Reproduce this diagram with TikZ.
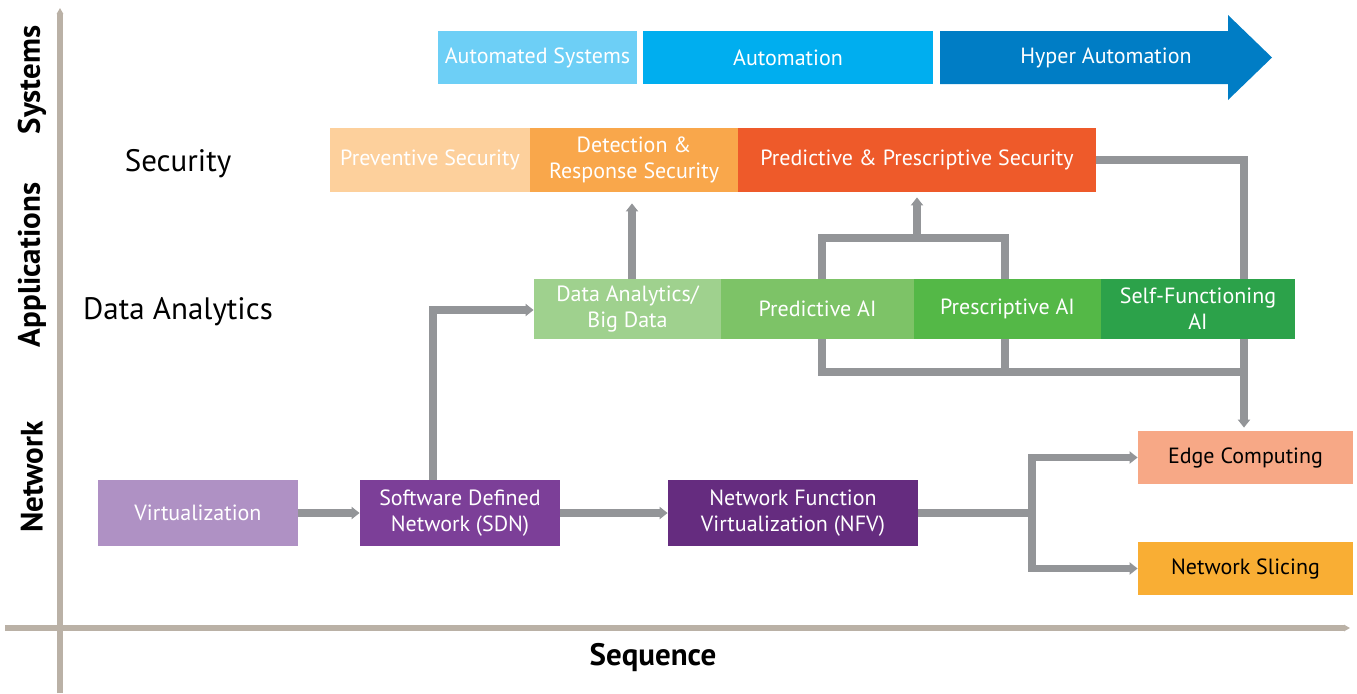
\documentclass[tikz,border=0pt]{standalone}
\usepackage{fontspec}
\setmainfont{PT Sans}
\usetikzlibrary{arrows.meta,backgrounds}
\definecolor{cAS}{HTML}{6DCFF6}
\definecolor{cAU}{HTML}{00AEEF}
\definecolor{cHA}{HTML}{007DC5}
\definecolor{cPS}{HTML}{FDD09C}
\definecolor{cDR}{HTML}{F9A74B}
\definecolor{cPP}{HTML}{EE5A2A}
\definecolor{cDA}{HTML}{9FD18E}
\definecolor{cPA}{HTML}{7DC367}
\definecolor{cRA}{HTML}{54B847}
\definecolor{cSF}{HTML}{2CA24A}
\definecolor{cVI}{HTML}{AF91C4}
\definecolor{cSD}{HTML}{7C3F98}
\definecolor{cNF}{HTML}{652C7F}
\definecolor{cEC}{HTML}{F7A886}
\definecolor{cNS}{HTML}{F9AE34}
\definecolor{cconn}{HTML}{939598}
\definecolor{caxis}{HTML}{BAB1A6}
\begin{document}
\begin{tikzpicture}[x=0.5pt,y=-0.5pt,
  box/.style={rectangle, inner sep=0pt, text=white, align=center,
    font=\fontsize{11}{13}\selectfont},
  conn/.style={draw=cconn, line width=3.6pt, miter limit=10},
  tip/.style={-{Triangle[length=4pt,width=6pt]}},
  axis/.style={draw=caxis, line width=3pt, -{Triangle[length=3pt,width=3.2pt]}},
  axlabel/.style={font=\fontsize{15.5}{17}\selectfont\bfseries, text=black},
  rowlabel/.style={font=\fontsize{15.5}{17}\selectfont, text=black}]
\useasboundingbox (0,0) rectangle (1357,693);
% axes
\draw[axis] (60,693) -- (60,8);
\draw[axis] (5,628) -- (1350,628);
\node[axlabel, rotate=90] (lsys) at (32,80) {Systems};
\node[axlabel, rotate=90] (lapp) at (32,265) {Applications};
\node[axlabel, rotate=90] (lnet) at (32,477) {Network};
\node[axlabel] (lseq) at (653,658) {Sequence};
\node[rowlabel] (lsec) at (178,164) {Security};
\node[rowlabel] (lda) at (178,312) {Data Analytics};
% systems row
\node[box, fill=cAS, minimum width=99.5pt, minimum height=26.5pt] (as) at (537.5,57.5) {Automated Systems};
\node[box, fill=cAU, minimum width=145pt, minimum height=26.5pt] (au) at (788,57.5) {Automation};
\fill[cHA] (940,31) -- (1228,31) -- (1228,15) -- (1272,57.5) -- (1228,100) -- (1228,84) -- (940,84) -- cycle;
\node[box] (ha) at (1106,58) {Hyper Automation};
% security row
\node[box, fill=cPS, minimum width=100pt, minimum height=32pt] (ps) at (430,160) {Preventive Security};
\node[box, fill=cDR, minimum width=104pt, minimum height=32pt] (dr) at (634,160) {Detection \&\\Response Security};
\node[box, fill=cPP, minimum width=179pt, minimum height=32pt] (pp) at (917,160) {Predictive \& Prescriptive Security};
% data row
\node[box, fill=cDA, minimum width=93.5pt, minimum height=30pt] (da) at (627.5,309) {Data Analytics/\\Big Data};
\node[box, fill=cPA, minimum width=96.5pt, minimum height=30pt] (pa) at (817.5,309) {Predictive AI};
\node[box, fill=cRA, minimum width=93.5pt, minimum height=30pt] (ra) at (1007.5,309) {Prescriptive AI};
\node[box, fill=cSF, minimum width=97pt, minimum height=30pt] (sf) at (1198,309) {Self-Functioning\\AI};
% network row
\node[box, fill=cVI, minimum width=100pt, minimum height=33pt] (vi) at (198,513) {Virtualization};
\node[box, fill=cSD, minimum width=100pt, minimum height=33pt] (sd) at (460,513) {Software Defined\\Network (SDN)};
\node[box, fill=cNF, minimum width=125pt, minimum height=33pt] (nf) at (793,513) {Network Function\\Virtualization (NFV)};
\node[box, fill=cEC, text=black, minimum width=107.5pt, minimum height=26.5pt] (ec) at (1245.5,457.5) {Edge Computing};
\node[box, fill=cNS, text=black, minimum width=107.5pt, minimum height=26.5pt] (ns) at (1245.5,568.5) {Network Slicing};
% connector bend points
\coordinate (j1) at (433,310);
\coordinate (d1) at (632,0);
\coordinate (b1) at (822,238);
\coordinate (b2) at (1005,238);
\coordinate (c1) at (822,372);
\coordinate (c2) at (1005,372);
\coordinate (r1) at (1244,160);
\coordinate (s1) at (1032,513);
\begin{scope}[on background layer]
\draw[conn, tip] (vi.east) -- (sd.west);
\draw[conn, tip] (sd.east) -- (nf.west);
\draw[conn, tip] (j1 |- sd.north) -- (j1) -- (da.west |- j1);
\draw[conn, tip, shorten >=5.5pt] (d1 |- da.north) -- (d1 |- dr.south);
\draw[conn] (b1 |- pa.north) -- (b1) -- (b2) -- (b2 |- ra.north);
\draw[conn, tip, shorten >=2.5pt] (pp.south |- b1) -- (pp.south);
\draw[conn] (b1 |- pa.south) -- (c1) -- (c1 -| r1);
\draw[conn] (b2 |- ra.south) -- (c2);
\draw[conn, tip, shorten >=1.5pt] (pp.east) -- (r1) -- (r1 |- ec.north);
\draw[conn, tip] (nf.east) -- (s1) |- (ec.west);
\draw[conn, tip] (s1) |- (ns.west);
\end{scope}
\end{tikzpicture}
\end{document}
